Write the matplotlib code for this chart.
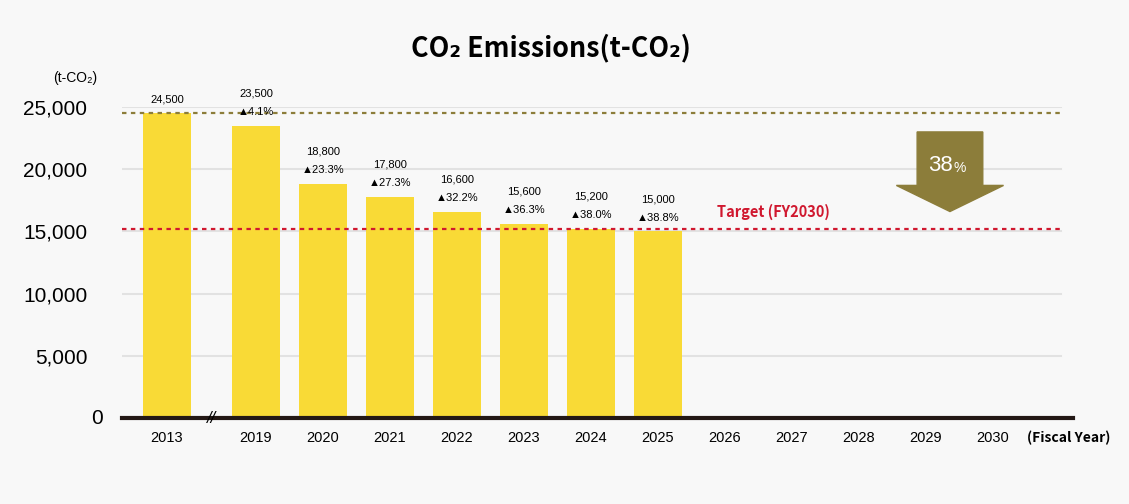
import matplotlib
matplotlib.use('Agg')
import matplotlib.pyplot as plt
import numpy as np
from matplotlib.patches import Polygon

years = ['2013', '2019', '2020', '2021', '2022', '2023', '2024', '2025',
         '2026', '2027', '2028', '2029', '2030']
emissions = [24500, 23500, 18800, 17800, 16600, 15600, 15200, 15000]
reductions = [None, '4.1%', '23.3%', '27.3%', '32.2%', '36.3%', '38.0%', '38.8%']
base_value = 24500
target_value = 15190
target_pct = '38'
yticks = [0, 5000, 10000, 15000, 20000, 25000]

bar_color = '#f9da36'
olive = '#8c7d3a'
red = '#d0182f'
bold_font = ['Noto Sans CJK JP', 'DejaVu Sans']

plt.rcParams['font.family'] = ['Liberation Sans', 'DejaVu Sans']

# positions: a wider gap between 2013 and 2019 (axis break)
xpos = np.array([0.0] + [1.33 + i for i in range(len(years) - 1)])

fig = plt.figure(figsize=(11.29, 5.04), dpi=100, facecolor='#f8f8f8')
ax = fig.add_axes([0.108, 0.1706, 0.842, 0.617])
ax.set_facecolor('#f8f8f8')

ax.bar(xpos[:len(emissions)], emissions, width=0.72, color=bar_color, zorder=2)

ax.set_xlim(-0.67, 13.52)
ax.set_ylim(0, 25000)
ax.set_yticks(yticks)
ax.set_yticklabels([f'{v:,}' if v else '' for v in yticks], fontsize=15)
ax.set_xticks(xpos)
ax.set_xticklabels(years, fontsize=10.5)
ax.tick_params(length=0)
ax.tick_params(axis='x', pad=9)
ax.tick_params(axis='y', pad=25)
# the zero label sits closer to the axis in the original
ax.text(-0.95, 0, '0', fontsize=15, ha='right', va='center', clip_on=False)
for s in ['top', 'right', 'left']:
    ax.spines[s].set_visible(False)
ax.spines['bottom'].set_linewidth(3)
ax.spines['bottom'].set_color('#231815')
ax.spines['bottom'].set_zorder(5)

for v in yticks[1:]:
    ax.plot([-0.67, 13.35], [v, v], color='#e2e2e2', lw=1.5, zorder=1)

# baseline and target lines
ax.plot([-0.67, 13.35], [base_value, base_value], color=olive, lw=1.6,
        ls=(0, (2, 2)), zorder=3)
ax.plot([-0.67, 13.35], [target_value, target_value], color=red, lw=1.6,
        ls=(0, (2, 2)), zorder=3)
ax.text(9.06, target_value + 700, 'Target (FY2030)', color=red, fontsize=10.5,
        fontweight='bold', family=bold_font, ha='center', va='bottom')

# labels above bars
for i, (v, r) in enumerate(zip(emissions, reductions)):
    if r is None:
        ax.text(xpos[i], v + 700, f'{v:,}', ha='center', va='bottom', fontsize=8,
                clip_on=False)
    else:
        ax.text(xpos[i], v + 2200, f'{v:,}', ha='center', va='bottom', fontsize=8,
                clip_on=False)
        ax.text(xpos[i], v + 700, '\u25b2' + r, ha='center', va='bottom', fontsize=8,
                clip_on=False, zorder=4)

# axis break marker
ax.text((xpos[0] + xpos[1]) / 2, 0, '//', ha='center', va='center', fontsize=12,
        fontstyle='italic', zorder=6)

# big arrow showing reduction
ax_x = 11.69
arrow = Polygon([[ax_x - 0.49, 23000], [ax_x + 0.49, 23000], [ax_x + 0.49, 18700],
                 [ax_x + 0.8, 18700], [ax_x, 16600], [ax_x - 0.8, 18700],
                 [ax_x - 0.49, 18700]], closed=True, color=olive, zorder=4)
ax.add_patch(arrow)
ax.text(ax_x + 0.05, 20300, target_pct, color='white', fontsize=16, ha='right',
        va='center', zorder=5)
ax.text(ax_x + 0.05, 20100, '%', color='white', fontsize=10, ha='left', va='center',
        zorder=5)

fig.text(0.488, 0.905, 'CO\u2082 Emissions(t-CO\u2082)', ha='center', va='center',
         fontsize=19.3, fontweight='bold', family=bold_font)
fig.text(0.067, 0.845, '(t-CO\u2082)', ha='center', va='center', fontsize=10)
fig.text(0.947, 0.131, '(Fiscal Year)', ha='center', va='center', fontsize=10,
         fontweight='bold', family=bold_font)

fig.savefig('out.png', dpi=100, facecolor=fig.get_facecolor())
